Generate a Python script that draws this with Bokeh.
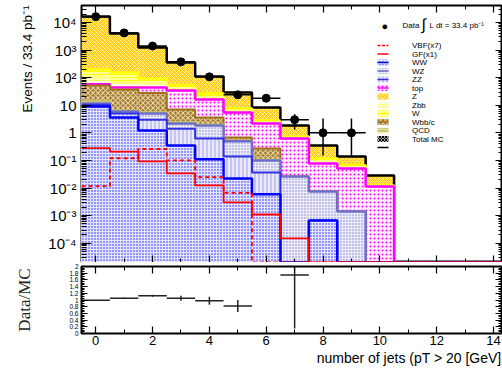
import numpy as np
from bokeh.plotting import figure
from bokeh.layouts import column
from bokeh.models import (Range1d, FixedTicker, CustomJSTickFormatter, LinearAxis, LogAxis,
                          Label, BoxAnnotation, Title)
from bokeh.embed import file_html
from bokeh.resources import INLINE

# ---------------- data (bins: number of jets 0..14) ----------------
n_jets = list(range(15))
WW   = [9.0, 3.6, 1.22, 0.35, 0.11, 0.022, 0.0059, 0, 0.00067, 0, 0, 0, 0, 0, 0]
ZZ   = [1.5, 1.4, 1.78, 1.05, 0.52, 0.118, 0.031, 0, 0, 0, 0, 0, 0, 0, 0]
WZ   = [1.1, 0.96, 2.04, 0.79, 1.22, 0.36, 0.063, 0.0263, 0.0068, 0.00142, 0, 0, 0, 0, 0]
QCD  = [2.4, 0.54, 0.56, 0.31, 0.15, 0.02, 0.01, 0, 0, 0, 0, 0, 0, 0, 0]
Wbbc = [38, 30.5, 22.4, 4.5, 1.6, 0.16, 0.16, 0, 0, 0, 0, 0, 0, 0, 0]
top  = [6, 7.2, 16.2, 27.4, 12.6, 4.8, 1.92, 0.60, 0.070, 0.050, 0.0114, 0, 0, 0, 0]
Zbb  = [37, 25.8, 15.8, 5.6, 3.3, 0.72, 0.21, 0.043, 0.012, 0.006, 0.0004, 0, 0, 0, 0]
W    = [103, 84, 33.5, 12.1, 7.3, 1.46, 0.41, 0.071, 0.028, 0.009, 0.0006, 0, 0, 0, 0]
Z    = [16300, 3836, 1148, 304, 83, 21.4, 5.5, 1.11, 0.231, 0.074, 0.0162, 0, 0, 0, 0]
GF   = [0.28, 0.21, 0.093, 0.034, 0.0125, 0.003, 0.0011, 0.00015, 0, 0, 0, 0, 0, 0, 0]
VBF  = [0.0117, 0.12, 0.26, 0.10, 0.025, 0.0067, 0, 0, 0, 0, 0, 0, 0, 0, 0]

data    = [16300, 4200, 1400, 375, 107, 24, 18, 3, 1, 1, 0, 0, 0, 0, 0]
data_lo = [16170, 4135, 1363, 356, 97, 19.1, 13.8, 1.3, 0.15, 0.15, 0, 0, 0, 0, 0]
data_hi = [16430, 4265, 1437, 394, 117, 28.9, 22.2, 4.7, 3.3, 3.3, 0, 0, 0, 0, 0]

ratio    = [0.99, 1.055, 1.13, 1.055, 0.975, 0.82, np.nan, 1.75, np.nan, np.nan,
            np.nan, np.nan, np.nan, np.nan, np.nan]
ratio_lo = [0.98, 1.035, 1.10, 0.98, 0.855, 0.64, np.nan, 0.15, np.nan, np.nan,
            np.nan, np.nan, np.nan, np.nan, np.nan]
ratio_hi = [1.00, 1.075, 1.16, 1.13, 1.095, 1.00, np.nan, 2.3, np.nan, np.nan,
            np.nan, np.nan, np.nan, np.nan, np.nan]

x_major = [0, 2, 4, 6, 8, 10, 12, 14]
ratio_ticks = [0, 0.2, 0.4, 0.6, 0.8, 1.0, 1.2, 1.4, 1.6, 1.8, 2.0]

# ---------------- styles ----------------
FONT = "Liberation Sans"
YMIN, YMAX = 2.0e-5, 4.13e4
XR = (-0.5, 14.28)
FW, FH_MAIN, FH_RATIO = 420, 257, 67
LEFT, TOP = 81, 5

layers = [  # bottom -> top
    ("WW",    WW,   dict(fill_color="#e4e4fb", hatch_pattern="dot", hatch_color="#1a1aff", hatch_scale=3), "#0000ff", 2.5),
    ("ZZ",    ZZ,   dict(fill_color="#eaeafa", hatch_pattern="|", hatch_color="#a0a0f0", hatch_scale=4, hatch_weight=1), "#3030e0", 2),
    ("WZ",    WZ,   dict(fill_color="#ececf8", hatch_pattern="dot", hatch_color="#7a7ad0", hatch_scale=3), "#6e6ec8", 2.5),
    ("QCD",   QCD,  dict(fill_color="#f0f0c8", hatch_pattern="-", hatch_color="#cccc77", hatch_scale=3), "#c8c870", 2),
    ("Wbb/c", Wbbc, dict(fill_color="#a37b2c", hatch_pattern="x", hatch_color="#e6d3a8", hatch_scale=5, hatch_weight=1.1), "#a0701c", 2),
    ("top",   top,  dict(fill_color="#fff0ff", hatch_pattern="dot", hatch_color="#ff00ff", hatch_scale=4), "#ff00ff", 2.5),
    ("Zbb",   Zbb,  dict(fill_color="#ffffe0", hatch_pattern="-", hatch_color="#ffff66", hatch_scale=3), "#ffff88", 2),
    ("W",     W,    dict(fill_color="#ffff99", hatch_pattern="-", hatch_color="#ffff00", hatch_scale=3), "#ffff00", 2.5),
    ("Z",     Z,    dict(fill_color="#ffcc1a", hatch_pattern="x", hatch_color="#fff3c0", hatch_scale=4, hatch_weight=1), "black", 2.5),
]

edges = np.arange(len(n_jets) + 1) - 0.5
left, right = edges[:-1], edges[1:]

EMPTY = CustomJSTickFormatter(code="return '';")


def style_axis(ax, tick_in, minor_in, label_size=None, standoff=3):
    ax.axis_line_color = None
    ax.major_tick_in = tick_in
    ax.major_tick_out = 0
    ax.minor_tick_in = minor_in
    ax.minor_tick_out = 0
    ax.major_tick_line_color = "black"
    ax.minor_tick_line_color = "black"
    ax.major_tick_line_width = 1.2
    ax.minor_tick_line_width = 1
    if label_size is None:
        ax.formatter = EMPTY
        ax.major_label_text_font_size = "2px"
        ax.major_label_standoff = 0
    else:
        ax.major_label_text_font = FONT
        ax.major_label_text_font_size = label_size
        ax.major_label_text_color = "black"
        ax.major_label_standoff = standoff


def side_title(text, size, standoff):
    t = Title(text=text, align="right", text_font=FONT, text_font_size=size,
              text_font_style="normal", text_color="black")
    try:
        t.standoff = standoff
    except Exception:
        pass
    return t


# ---------------- main panel ----------------
main = figure(frame_width=FW, frame_height=FH_MAIN, x_range=Range1d(*XR),
              y_range=Range1d(YMIN, YMAX), y_axis_type="log",
              output_backend="svg", toolbar_location=None,
              min_border_left=LEFT, min_border_right=1, min_border_top=TOP, min_border_bottom=0)
main.grid.visible = False
main.outline_line_color = "black"
main.outline_line_width = 2
main.background_fill_color = "white"

cum = np.zeros(len(n_jets))
cums = []
for name, vals, fill, lc, lw in layers:
    cum = cum + np.array(vals, dtype=float)
    cums.append(cum.copy())

# draw from the top of the stack down, each filled from the axis floor
for (name, vals, fill, lc, lw), c in reversed(list(zip(layers, cums))):
    tops = np.where(c > 0, c, 1e-9)
    main.quad(left=left, right=right, bottom=1e-9, top=tops, line_color=None, **fill)
    ys = np.maximum(c, YMIN)
    main.step(x=edges, y=np.append(ys, ys[-1]), mode="after", line_color=lc, line_width=lw)

for vals, dash in ((GF, "solid"), (VBF, "4 3")):
    ys = np.maximum(np.array(vals, dtype=float), YMIN)
    main.step(x=edges, y=np.append(ys, ys[-1]), mode="after", line_color="#ff0000",
              line_width=1.8, line_dash=dash)

d = np.array(data, dtype=float)
m = d > 0
xc = np.array(n_jets, dtype=float)[m]
main.segment(x0=xc, x1=xc, y0=np.array(data_lo)[m], y1=np.array(data_hi)[m], line_color="black", line_width=1.5)
main.segment(x0=xc - 0.5, x1=xc + 0.5, y0=d[m], y1=d[m], line_color="black", line_width=1.5)
main.scatter(x=xc, y=d[m], size=8, color="black")

log_fmt = CustomJSTickFormatter(code="""
const e = Math.round(Math.log10(tick));
if (e === 0) return "1";
if (e === 1) return "10";
const sup = {"-": "\\u207b", "0": "\\u2070", "1": "\\u00b9", "2": "\\u00b2", "3": "\\u00b3",
             "4": "\\u2074", "5": "\\u2075", "6": "\\u2076", "7": "\\u2077", "8": "\\u2078", "9": "\\u2079"};
return "10" + String(e).split("").map(c => sup[c]).join("");
""")
decades = [10.0 ** k for k in range(-4, 5)]
minors = [mm * 10.0 ** k for k in range(-5, 5) for mm in range(2, 10)]

main.yaxis.ticker = FixedTicker(ticks=decades, minor_ticks=minors)
main.yaxis.formatter = log_fmt
style_axis(main.yaxis[0], 10, 5, "15px", 5)
main.add_layout(side_title("Events / 33.4 pb\u207b\u00b9", "13.5px", 22), "left")

main.xaxis.ticker = FixedTicker(ticks=x_major, minor_ticks=list(range(0, 15)))
style_axis(main.xaxis[0], 7, 4)

ra = LogAxis(ticker=FixedTicker(ticks=decades, minor_ticks=minors))
style_axis(ra, 6, 3)
main.add_layout(ra, "right")
ta = LinearAxis(ticker=FixedTicker(ticks=x_major, minor_ticks=list(range(0, 15))))
style_axis(ta, 7, 4)
main.add_layout(ta, "above")

# ---------------- legend (drawn in screen units inside the frame) ----------------
def sy(page_y):
    return TOP + FH_MAIN - page_y

def sx(page_x):
    return page_x - LEFT

def txt(px, py, s, size="8px", align="left"):
    main.add_layout(Label(x=sx(px), y=sy(py), x_units="screen", y_units="screen", text=s,
                          text_font=FONT, text_font_size=size, text_baseline="middle",
                          text_align=align, text_color="black"))

def sbox(x0, x1, y_top, y_bot, **style):
    main.add_layout(BoxAnnotation(left=sx(x0), right=sx(x1), top=sy(y_top), bottom=sy(y_bot),
                                  left_units="screen", right_units="screen",
                                  top_units="screen", bottom_units="screen",
                                  line_color=None, fill_alpha=1, **style))

def hline(py, color, dashed=False):
    if dashed:
        for a, b in ((377, 380), (381.5, 384.5), (386, 388)):
            sbox(a, b, py - 0.75, py + 0.75, fill_color=color)
    else:
        sbox(377, 388, py - 0.75, py + 0.75, fill_color=color)

def box(py, style):
    sbox(377, 388, py - 3, py + 3, **style)

txt(381, 25, "\u25cf", "11px")
txt(402, 24.5, "Data")
txt(421, 24, "\u222b", "16px")
txt(429, 24.5, "L dt = 33.4 pb\u207b\u00b9")

style_by_name = {name: (fill, lc) for name, vals, fill, lc, lw in layers}
rows = ["VBF(x7)", "GF(x1)", "WW", "WZ", "ZZ", "top", "Z", "Zbb", "W", "Wbb/c", "QCD", "Total MC"]
y0, dy = 45, 8.5
for i, r in enumerate(rows):
    py = y0 + i * dy
    if r == "VBF(x7)":
        hline(py, "#ff0000", dashed=True)
    elif r == "GF(x1)":
        hline(py, "#ff0000")
    elif r == "Total MC":
        box(py, dict(fill_color="white", hatch_pattern="x", hatch_color="black", hatch_scale=3, hatch_weight=1.2))
    else:
        fill, lc = style_by_name[r]
        box(py, fill)
        if r != "Z":
            hline(py, lc)
    txt(411.5, py, r)
hline(y0 + len(rows) * dy, "black")

# ---------------- ratio panel ----------------
rat = figure(frame_width=FW, frame_height=FH_RATIO, x_range=main.x_range,
             y_range=Range1d(0, 2.0), output_backend="svg", toolbar_location=None,
             min_border_left=LEFT, min_border_right=1, min_border_top=4, min_border_bottom=33)
rat.grid.visible = False
rat.outline_line_color = "black"
rat.outline_line_width = 2

r = np.array(ratio, dtype=float)
rm = ~np.isnan(r)
rx = np.array(n_jets, dtype=float)[rm]
rat.segment(x0=rx - 0.5, x1=rx + 0.5, y0=r[rm], y1=r[rm], line_color="#222222", line_width=1.5)
rat.segment(x0=rx, x1=rx, y0=np.array(ratio_lo)[rm], y1=np.array(ratio_hi)[rm],
            line_color="#222222", line_width=1.5)

rat.xaxis.ticker = FixedTicker(ticks=x_major, minor_ticks=list(range(0, 15)))
style_axis(rat.xaxis[0], 7, 4, "13px", 2)
rat.add_layout(side_title("number of jets (pT > 20 [GeV]", "14px", 0), "below")

rat.yaxis.ticker = FixedTicker(ticks=ratio_ticks, minor_ticks=[i * 0.05 for i in range(41)])
rat.yaxis.formatter = CustomJSTickFormatter(code="return String(Math.round(tick*10)/10);")
ryax = rat.yaxis[0]
style_axis(ryax, 6, 3, "6.5px", 3)
ryax.axis_label = "Data/MC"
ryax.axis_label_text_font = "Liberation Serif"
ryax.axis_label_text_font_size = "17px"
ryax.axis_label_text_font_style = "normal"
ryax.axis_label_text_color = "#222222"
ryax.axis_label_standoff = 32

ra2 = LinearAxis(ticker=FixedTicker(ticks=ratio_ticks, minor_ticks=[i * 0.05 for i in range(41)]))
style_axis(ra2, 6, 3)
rat.add_layout(ra2, "right")
ta2 = LinearAxis(ticker=FixedTicker(ticks=x_major, minor_ticks=list(range(0, 15))))
style_axis(ta2, 7, 4)
rat.add_layout(ta2, "above")

layout = column(main, rat, spacing=0)
open("out.html", "w").write(file_html(layout, INLINE))
